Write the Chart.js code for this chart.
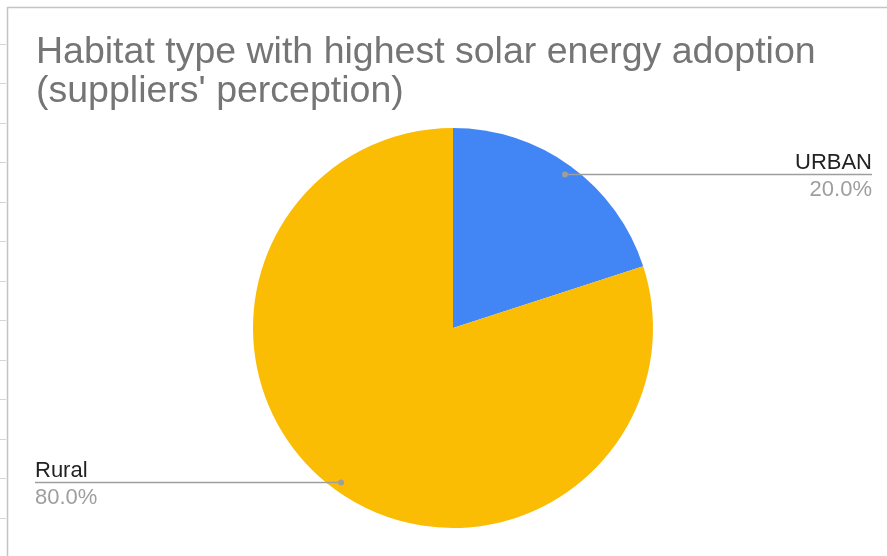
<!DOCTYPE html>
<html>
<head>
<meta charset="utf-8">
<title>Habitat type with highest solar energy adoption</title>
<script src="https://cdn.jsdelivr.net/npm/chart.js@4.4.1/dist/chart.umd.min.js"></script>
<style>
  html, body { margin: 0; padding: 0; background: #ffffff; }
  #wrap { position: relative; width: 887px; height: 556px; }
</style>
</head>
<body>
<div id="wrap"><canvas id="chart" width="887" height="556"></canvas></div>
<script>
// Survey answers: habitat type where suppliers see the most solar adoption
const categories = ['URBAN', 'Rural'];
const shares = [20, 80];
const sliceColors = ['#4285F4', '#FBBC04'];
const titleLines = ['Habitat type with highest solar energy adoption', "(suppliers' perception)"];

const FONT = '"Liberation Sans", Arial, sans-serif';

// Sheet-style frame: top and left rules plus the row gridline stubs on the left
const framePlugin = {
  id: 'frame',
  beforeDraw(chart) {
    const ctx = chart.ctx;
    ctx.save();
    ctx.fillStyle = '#ffffff';
    ctx.fillRect(0, 0, chart.width, chart.height);
    ctx.strokeStyle = '#c4c4c4';
    ctx.lineWidth = 1.5;
    ctx.beginPath();
    ctx.moveTo(7, 7.5);
    ctx.lineTo(chart.width, 7.5);
    ctx.moveTo(7.5, 7);
    ctx.lineTo(7.5, chart.height);
    ctx.stroke();
    ctx.strokeStyle = '#d6d6d6';
    ctx.lineWidth = 1;
    ctx.beginPath();
    for (let y = 43.5; y < chart.height; y += 39.5) {
      const yy = Math.round(y) + 0.5;
      ctx.moveTo(0, yy);
      ctx.lineTo(6, yy);
    }
    ctx.stroke();
    ctx.restore();
  }
};

// Two-line title, left aligned, grey
const titlePlugin = {
  id: 'sheetTitle',
  afterDraw(chart) {
    const ctx = chart.ctx;
    ctx.save();
    ctx.fillStyle = '#757575';
    ctx.font = '37.5px ' + FONT;
    ctx.textAlign = 'left';
    ctx.textBaseline = 'alphabetic';
    titleLines.forEach((line, i) => ctx.fillText(line, 36, 63 + i * 39));
    ctx.restore();
  }
};

// Leader lines with category name above and percentage below
const leaderPlugin = {
  id: 'leaders',
  afterDatasetsDraw(chart) {
    const ctx = chart.ctx;
    const meta = chart.getDatasetMeta(0);
    const values = chart.data.datasets[0].data;
    const total = values.reduce((a, b) => a + b, 0);
    ctx.save();
    meta.data.forEach((arc, i) => {
      const p = arc.getProps(['x', 'y', 'startAngle', 'endAngle', 'outerRadius'], true);
      const mid = (p.startAngle + p.endAngle) / 2;
      const r = p.outerRadius * 0.952;
      const px = p.x + Math.cos(mid) * r;
      const py = p.y + Math.sin(mid) * r;
      const right = Math.cos(mid) >= 0;
      const endX = right ? 872 : 35;
      const ly = Math.round(py) + 0.5;

      ctx.strokeStyle = '#9e9e9e';
      ctx.lineWidth = 1.5;
      ctx.beginPath();
      ctx.moveTo(px, ly);
      ctx.lineTo(endX, ly);
      ctx.stroke();

      ctx.fillStyle = '#9e9e9e';
      ctx.beginPath();
      ctx.arc(px, ly, 3, 0, Math.PI * 2);
      ctx.fill();

      ctx.textAlign = right ? 'right' : 'left';
      ctx.font = '22px ' + FONT;
      ctx.fillStyle = '#222222';
      ctx.textBaseline = 'alphabetic';
      ctx.fillText(chart.data.labels[i], endX, ly - 6);
      ctx.fillStyle = '#9e9e9e';
      ctx.fillText((values[i] / total * 100).toFixed(1) + '%', endX, ly + 21);
    });
    ctx.restore();
  }
};

new Chart(document.getElementById('chart'), {
  type: 'pie',
  data: {
    labels: categories,
    datasets: [{
      data: shares,
      backgroundColor: sliceColors,
      borderWidth: 0,
      hoverOffset: 0
    }]
  },
  options: {
    responsive: false,
    animation: false,
    devicePixelRatio: 1,
    layout: { padding: { top: 128, bottom: 28, left: 253, right: 234 } },
    plugins: {
      legend: { display: false },
      tooltip: { enabled: false },
      title: { display: false }
    }
  },
  plugins: [framePlugin, titlePlugin, leaderPlugin]
});
</script>
</body>
</html>
